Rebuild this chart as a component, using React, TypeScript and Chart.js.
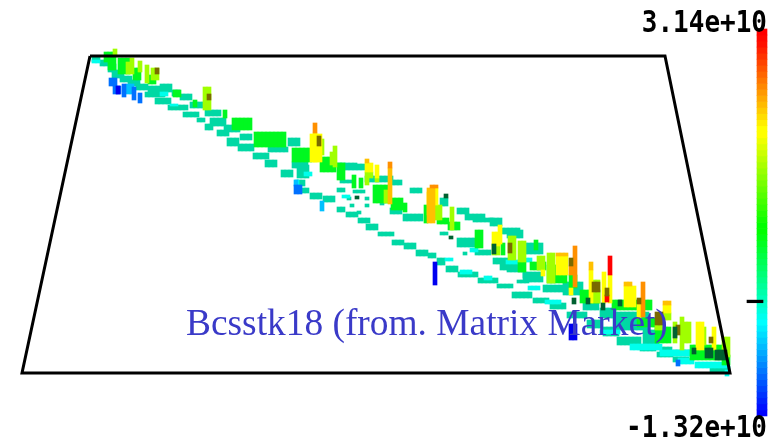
import React, { useEffect, useRef } from "react";
import { Chart, registerables } from "chart.js";

Chart.register(...registerables);

type Run = [number, number, number, number];

const title = "Bcsstk18 (from. Matrix Market)";
const maxLabel = "3.14e+10";
const minLabel = "-1.32e+10";
const valueMin = -1.32e10;
const valueMax = 3.14e10;

const frameX = [90, 665, 730, 22, 90];
const frameY = [56, 56, 373, 373, 56];

const colorbarColors = [
  "#0000ff","#0011ff","#0022ff","#0033ff","#0044ff","#0055ff","#0066ff","#0077ff","#0088ff","#0099ff","#00aaff","#00bbff","#00ccff","#00ddff","#00eeff","#00ffff",
  "#00ffee","#00ffdd","#00ffcc","#00ffbb","#00ffaa","#00ff99","#00ff88","#00ff77","#00ff66","#00ff55","#00ff44","#00ff33","#00ff22","#00ff11","#00ff00","#00ff00",
  "#11ff00","#22ff00","#33ff00","#44ff00","#55ff00","#66ff00","#77ff00","#88ff00","#99ff00","#aaff00","#bbff00","#ccff00","#ddff00","#eeff00","#ffff00","#ffff00",
  "#ffee00","#ffdd00","#ffcc00","#ffbb00","#ffaa00","#ff9900","#ff8800","#ff7700","#ff6600","#ff5500","#ff4400","#ff3300","#ff2200","#ff1100","#ff0800","#ff0000",
];

// [x from, x to, y from, y to]
const darkRuns: Run[] = [
  [355,358,196,199],[444,447,194,198],[449,452,236,239],[601,604,303,310],[586,589,298,304],
  [492,496,244,254],[618,622,300,306],[715,725,350,360],[705,712,348,358],[673,676,327,338],[572,575,298,304],[692,695,348,354],
];
const oliveRuns: Run[] = [
  [155,158,68,74],[207,210,94,100],[317,320,136,146],[508,511,243,253],[569,573,258,266],
  [592,598,282,292],[605,608,288,296],[637,641,298,304],[655,663,312,325],[676,680,325,335],[709,712,337,343],
];
const redRuns: Run[] = [[608,612,256,275],[605,608,295,302]];
const orangeRuns: Run[] = [
  [313,317,123,133],[430,437,185,188],[573,576,246,287],[569,573,266,275],[641,644,282,317],[388,391,162,168],
];
const goldRuns: Run[] = [
  [388,391,168,204],[427,434,188,223],[556,566,253,256],[589,592,262,270],[624,631,282,286],[663,670,301,305],[365,369,159,163],
];
const yellowRuns: Run[] = [
  [310,320,134,162],[313,317,133,162],[434,437,188,205],[427,430,192,205],[365,372,163,172],[375,378,165,178],
  [498,501,225,244],[492,498,232,246],[556,566,256,275],[569,573,288,295],[589,592,270,303],[602,605,272,303],
  [608,612,275,303],[624,634,286,307],[637,641,304,318],[663,670,305,313],[696,702,322,350],[712,715,327,350],[541,544,270,276],
];
const limeRuns: Run[] = [
  [113,116,49,56],[130,133,58,74],[126,130,62,74],[138,142,61,72],[145,148,65,83],[151,158,68,80],[203,210,87,110],
  [320,323,139,155],[333,336,146,167],[330,333,152,165],[369,372,172,178],[365,369,172,185],[375,378,178,182],
  [384,388,190,203],[434,443,205,220],[427,430,205,215],[450,453,207,230],[492,501,244,255],[508,514,236,260],
  [518,524,241,262],[537,543,256,270],[547,553,253,283],[592,600,280,303],[655,663,325,330],[663,670,313,320],
  [673,677,322,343],[680,683,317,350],[683,689,322,343],[702,705,327,345],[722,728,337,357],
];
const greenRuns: Run[] = [
  [104,108,52,62],[108,116,52,70],[118,130,58,74],[133,142,68,80],[148,156,75,84],
  [173,180,90,97],[193,198,100,107],[223,226,110,118],[232,252,118,130],[254,287,132,147],[292,312,148,162],
  [320,336,157,172],[337,345,163,180],[352,356,175,188],[359,362,178,188],[373,388,185,203],[391,403,198,210],
  [403,407,203,212],[424,427,205,223],[437,447,218,224],[475,482,230,248],[448,458,222,230],[501,505,243,255],
  [518,527,262,272],[569,575,275,288],[534,537,240,250],[530,546,262,270],[547,568,265,283],[580,600,290,303],
  [612,650,300,310],[637,660,318,327],[655,672,327,343],[690,722,345,360],[722,728,355,365],
];
const cyanRuns: Run[] = [
  [92,100,60,63],[160,168,92,96],[170,178,104,106],[295,300,180,186],[304,310,172,176],[342,348,195,198],
  [394,402,204,208],[460,470,270,274],[484,492,276,280],[520,530,258,262],[506,520,260,264],[545,560,300,304],
  [600,618,330,334],[630,660,344,350],[660,690,350,356],[678,695,358,364],[695,725,362,368],[725,730,370,376],
  [445,452,258,261],[470,478,248,252],[528,540,286,290],
];
const tealRuns: Run[] = [
  [92,100,56,62],[100,108,60,66],[108,116,64,72],[112,124,70,78],[120,132,76,82],[128,140,80,86],[136,148,84,90],[148,160,86,92],
  [160,172,84,92],[172,180,90,96],[180,192,94,100],[145,165,92,97],[155,172,98,104],[168,188,105,110],[183,197,112,117],
  [197,203,118,122],[190,205,102,108],[205,222,110,116],[210,224,118,126],[205,214,124,130],[217,230,130,136],[224,240,125,132],
  [227,238,138,146],[240,252,134,140],[238,252,144,151],[253,267,153,159],[265,278,160,167],[268,287,147,152],[281,294,170,177],
  [288,300,138,146],[297,307,165,178],[292,306,162,168],[297,305,180,186],
  [297,310,188,193],[310,323,193,199],[323,336,196,202],[337,346,207,212],[346,358,212,217],[358,368,218,223],[366,378,224,230],
  [378,392,232,236],[392,404,240,245],[404,416,243,249],[416,428,250,256],[428,437,253,258],[437,446,258,265],[446,458,266,272],
  [458,478,272,277],[478,497,278,283],[497,512,284,288],[512,533,292,298],[533,550,298,303],[550,567,303,309],[567,587,312,318],
  [587,603,320,328],[603,617,327,336],[617,640,337,345],[640,657,345,351],[657,673,352,357],[673,687,357,362],
  [337,357,163,167],[340,353,180,183],[337,343,188,192],[353,365,190,193],[347,352,197,200],[365,370,197,200],[350,355,204,207],
  [357,362,211,214],[365,369,204,207],[380,385,200,205],[390,403,208,214],[403,423,214,221],[410,423,188,193],[390,403,180,185],
  [345,365,164,170],[365,392,176,182],[440,447,198,206],[457,470,208,214],[465,483,214,220],[473,493,218,222],[490,500,218,226],
  [500,520,228,234],[457,477,238,247],[440,447,232,235],[463,467,252,255],[475,490,250,255],[493,510,258,264],[500,510,262,270],
  [507,523,267,272],[517,530,280,283],[523,530,273,278],[507,523,230,238],[523,543,243,254],[507,523,263,270],[523,543,272,282],
  [543,567,285,292],[563,583,282,295],[583,600,303,310],[600,617,308,318],[613,647,312,330],[643,660,330,348],[660,673,347,352],
  [673,693,350,356],[710,730,366,373],
];
const blueRuns: Run[] = [
  [109,116,78,86],[113,119,86,94],[122,126,84,97],[132,135,87,100],[138,142,93,103],[294,300,185,194],[676,680,360,366],
];
const skyRuns: Run[] = [[126,132,84,94],[320,323,201,211],[294,297,180,186]];
const navyRuns: Run[] = [[433,437,262,285],[569,576,324,340],[116,119,86,94]];

const expand = (runs: Run[]) => {
  const out: { x: number; y: [number, number] }[] = [];
  for (const [x0, x1, y0, y1] of runs) {
    const columns = Math.max(1, Math.round((x1 - x0) / 4));
    for (let c = 0; c < columns; c++) out.push({ x: x0 + 2 + c * 4, y: [y0, y1] });
  }
  return out;
};

const markLayers: [Run[], string][] = [
  [darkRuns, "#006030"],
  [oliveRuns, "#7a6a00"],
  [redRuns, "#ff0000"],
  [orangeRuns, "#ff9000"],
  [goldRuns, "#ffc000"],
  [yellowRuns, "#ffff00"],
  [limeRuns, "#a0ff00"],
  [navyRuns, "#0000f0"],
  [blueRuns, "#0070ff"],
  [skyRuns, "#00c0ff"],
  [greenRuns, "#00f820"],
  [cyanRuns, "#00ffec"],
  [tealRuns, "#00d8a4"],
];

const labelsPlugin = {
  id: "labels",
  afterDraw(chart: any) {
    const ctx = chart.ctx;
    ctx.save();
    ctx.fillStyle = "#000";
    ctx.textBaseline = "alphabetic";
    ctx.textAlign = "right";
    ctx.font = 'bold 26px "DejaVu Sans Mono"';
    ctx.save();
    ctx.translate(767, 32);
    ctx.scale(1, 1.14);
    ctx.fillText(maxLabel, 0, 0);
    ctx.restore();
    ctx.save();
    ctx.translate(767, 437);
    ctx.scale(1, 1.14);
    ctx.fillText(minLabel, 0, 0);
    ctx.restore();
    ctx.textAlign = "left";
    ctx.font = '37.4px "Liberation Serif"';
    ctx.fillStyle = "#3a3ac8";
    ctx.fillText(title, 186, 335);
    ctx.restore();
  },
};

export default function App() {
  const ref = useRef<HTMLCanvasElement>(null);
  useEffect(() => {
    if (!ref.current) return;
    const step = (valueMax - valueMin) / colorbarColors.length;
    const datasets: any[] = [
      {
        type: "bar",
        data: [{ x: 755, y: [-1.5e8, 1.5e8] }],
        backgroundColor: "#000",
        barThickness: 16,
        yAxisID: "v",
      },
      {
        type: "bar",
        data: colorbarColors.map((_, i) => ({ x: 762, y: [valueMin + i * step, valueMin + (i + 1) * step] })),
        backgroundColor: colorbarColors,
        barThickness: 10,
        yAxisID: "v",
      },
      {
        type: "line",
        data: frameX.map((x, i) => ({ x, y: frameY[i] })),
        borderColor: "#000",
        borderWidth: 3,
        pointRadius: 0,
        tension: 0,
        yAxisID: "y",
      },
      ...markLayers.map(([runs, color]) => ({
        type: "bar",
        data: expand(runs),
        backgroundColor: color,
        barThickness: 4,
        yAxisID: "y",
      })),
    ];
    const chart = new Chart(ref.current, {
      type: "bar",
      data: { datasets },
      options: {
        animation: false,
        responsive: false,
        layout: { padding: 0 },
        datasets: { bar: { grouped: false, borderWidth: 0 } },
        plugins: { legend: { display: false }, tooltip: { enabled: false }, title: { display: false } },
        scales: {
          x: { type: "linear", min: 0, max: 778, offset: false, display: false },
          y: { type: "linear", min: 0, max: 438, reverse: true, display: false },
          v: { type: "linear", min: -1.574e10, max: 3.474e10, display: false },
        },
      },
      plugins: [labelsPlugin],
    } as any);
    return () => chart.destroy();
  }, []);
  return (
    <div style={{ position: "fixed", left: 0, top: 0, width: 778, height: 438, background: "#fff" }}>
      <canvas ref={ref} width={778} height={438} style={{ display: "block" }} />
    </div>
  );
}
